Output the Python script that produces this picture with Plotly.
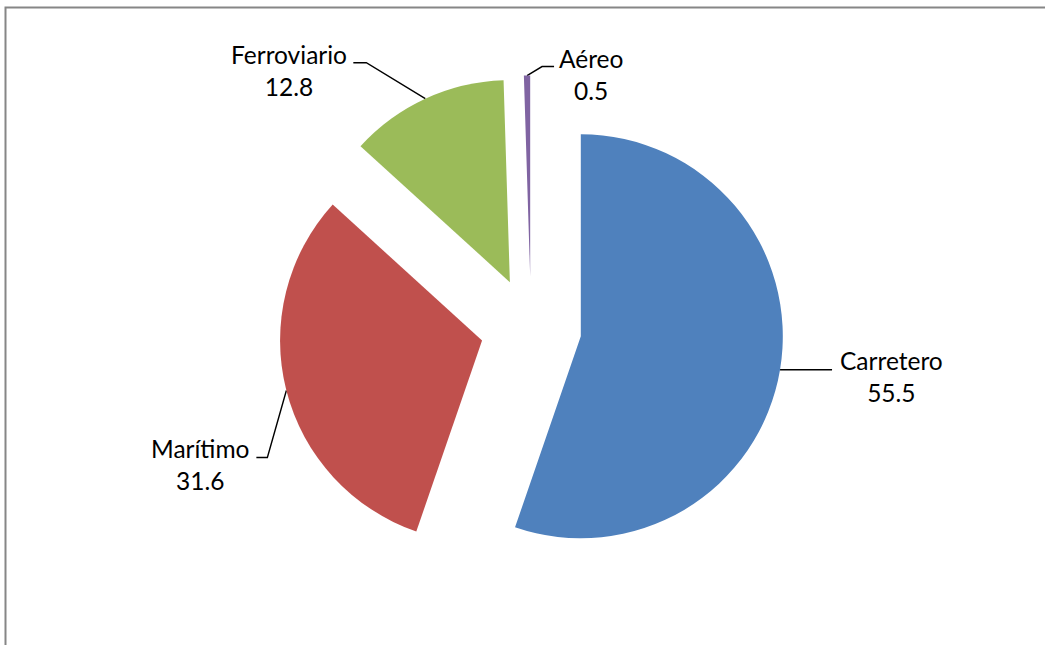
import math
import plotly.graph_objects as go

# ---- data ----
categories = ["Carretero", "Marítimo", "Ferroviario", "Aéreo"]
values = [55.5, 31.6, 12.8, 0.5]
colors = ["#4F81BD", "#C0504D", "#9BBB59", "#8064A2"]

# ---- layout / style ----
W, H = 1045, 645
PULL = 0.25
CX, CY = 531, 328        # pie centre (px)
R = 202                  # pie radius (px)
FONT = dict(family="Lato, Carlito, 'Open Sans', sans-serif", size=24.5, color="#000000")

# leader-line styling: (knee dx, knee dy, tail length, text gap, text dy)
leader_style = {
    "Carretero":   (52, 0, 0, 6, 7),
    "Marítimo":    (-19, 67, -11, -4, 7),
    "Ferroviario": (-59, -36, -13, -4, 8),
    "Aéreo":       (15, -9, 12, 3, 8),
}

E = R * (1 + PULL)
dom_x = [(CX - E) / W, (CX + E) / W]
dom_y = [1 - (CY + E) / H, 1 - (CY - E) / H]

fig = go.Figure()

fig.add_trace(go.Pie(
    labels=categories, values=values, sort=False, direction="clockwise",
    rotation=0, pull=[PULL] * len(values),
    marker=dict(colors=colors, line=dict(width=0)),
    textinfo="none", hoverinfo="label+value", showlegend=False,
    domain=dict(x=dom_x, y=dom_y),
))

# leader lines and labels computed from slice angles
total = sum(values)
cum = 0.0
lx, ly = [], []
annotations = []
for cat, v in zip(categories, values):
    mid = (cum + v / 2) / total * 2 * math.pi
    cum += v
    tx = CX + E * math.sin(mid)
    ty = CY - E * math.cos(mid)
    kdx, kdy, tail, gap, tdy = leader_style[cat]
    kx, ky = tx + kdx, ty + kdy
    ex, ey = kx + tail, ky
    lx += [tx, kx, ex, None]
    ly += [ty, ky, ey, None]
    annotations.append(dict(
        x=ex + gap, y=ey + tdy, xref="x", yref="y",
        text=f"{cat}<br>{v:.1f}", showarrow=False, align="center",
        xanchor="left" if gap > 0 else "right", yanchor="middle",
        font=FONT,
    ))

fig.add_trace(go.Scatter(
    x=lx, y=ly, mode="lines", line=dict(color="#000000", width=1.4),
    hoverinfo="skip", showlegend=False,
))

fig.update_layout(
    width=W, height=H, margin=dict(l=0, r=0, t=0, b=0),
    paper_bgcolor="white", plot_bgcolor="rgba(0,0,0,0)",
    xaxis=dict(range=[0, W], visible=False, fixedrange=True, domain=[0, 1]),
    yaxis=dict(range=[H, 0], visible=False, fixedrange=True, domain=[0, 1]),
    annotations=annotations,
    shapes=[dict(type="rect", xref="paper", yref="paper",
                 x0=5.5 / W, y0=-0.05, x1=1.05, y1=1 - 7.5 / H,
                 line=dict(color="#868686", width=2), layer="below")],
)

fig.write_html(
    "out.html",
    config={"displayModeBar": False},
    post_script="document.body.style.margin='0';document.body.style.overflow='hidden';",
)
